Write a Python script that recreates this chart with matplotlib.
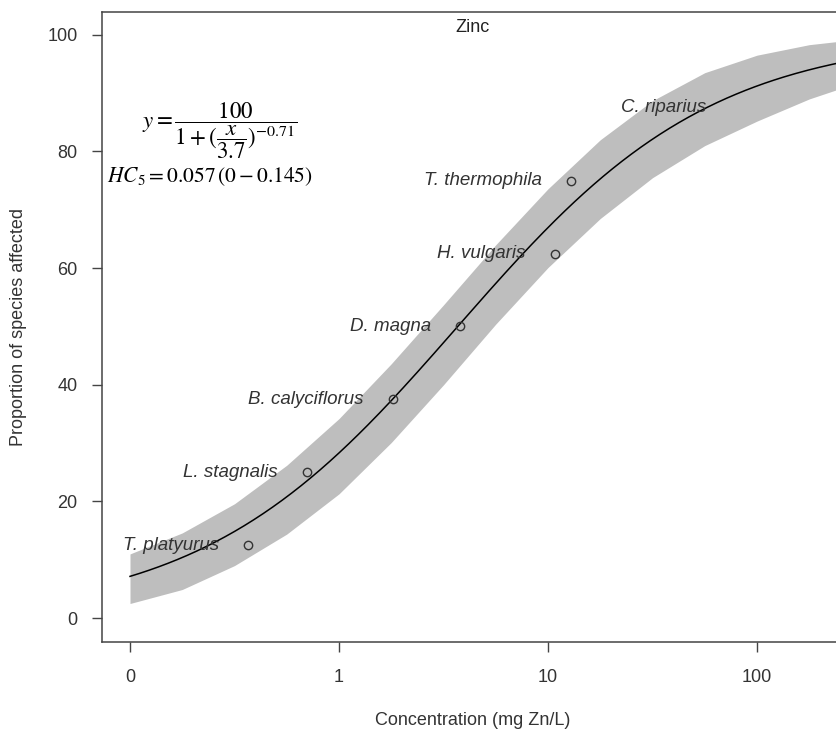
import numpy as np
import matplotlib
matplotlib.use("Agg")
import matplotlib.pyplot as plt
from matplotlib.ticker import FixedLocator, FixedFormatter, NullLocator

plt.rcParams['font.family'] = ['Liberation Sans', 'DejaVu Sans']
plt.rcParams['mathtext.fontset'] = 'stix'

# species sensitivity data (concentration in mg Zn/L, % of species affected)
species = ["T. platyurus", "L. stagnalis", "B. calyciflorus", "D. magna",
           "H. vulgaris", "T. thermophila", "C. riparius"]
conc = [0.367, 0.703, 1.81, 3.79, 10.8, 12.9, 78.5]
affected = [12.5, 25.0, 37.5, 50.0, 62.5, 75.0, 87.5]
point_shown = [True, True, True, True, True, True, False]

# fitted log-logistic model
hc50 = 3.7
slope = 0.71

# confidence band around the fit
band_logx = [-1.0, -0.75, -0.5, -0.25, 0.0, 0.25, 0.5, 0.75, 1.0, 1.25, 1.5, 1.75, 2.0, 2.25, 2.4]
band_lower = [2.5, 4.9, 9.0, 14.4, 21.3, 30.1, 40.0, 50.4, 60.1, 68.5, 75.5, 81.0, 85.2, 89.0, 90.8]
band_upper = [11.0, 14.6, 19.6, 26.2, 34.2, 43.6, 53.7, 64.0, 73.6, 82.0, 88.7, 93.5, 96.5, 98.3, 98.9]

xticks = [0.1, 1, 10, 100]
xtick_labels = ["0", "1", "10", "100"]
yticks = [0, 20, 40, 60, 80, 100]

W, H = 836, 740
fig = plt.figure(figsize=(W / 100, H / 100), dpi=100)
ax = fig.add_axes([102 / W, 1 - 642 / H, (844 - 102) / W, (642 - 12) / H])

ax.set_xscale('log')
ax.set_xlim(10 ** -1.134, 10 ** 2.416)
ax.set_ylim(-4.1, 103.9)

bx = 10 ** np.array(band_logx)
ax.fill_between(bx, band_lower, band_upper, color='#bebebe', lw=0, zorder=1)

xs = np.logspace(-1, 2.4, 300)
ys = 100 / (1 + (xs / hc50) ** (-slope))
ax.plot(xs, ys, color='black', lw=1.1, zorder=2)

for name, c, a, shown in zip(species, conc, affected, point_shown):
    if shown:
        ax.plot(c, a, 'o', mfc='none', mec='#333333', ms=6, mew=1.0, zorder=3)
    ax.annotate(name, (c, a), xytext=(-21, 0), textcoords='offset points',
                ha='right', va='center', style='italic', fontsize=13.5,
                color='#333333', zorder=4)

ax.text(0.5, 0.976, "Zinc", transform=ax.transAxes, ha='center', va='center',
        fontsize=13, color='#222222')

fig.text(142 / W, 1 - 131 / H, r'$y=\dfrac{100}{1+(\dfrac{x}{3.7})^{-0.71}}$',
         ha='left', va='center', fontsize=16.5)
fig.text(107 / W, 1 - 177 / H, r'$HC_5=0.057\,(0-0.145)$',
         ha='left', va='center', fontsize=15.5)

ax.xaxis.set_major_locator(FixedLocator(xticks))
ax.xaxis.set_major_formatter(FixedFormatter(xtick_labels))
ax.xaxis.set_minor_locator(NullLocator())
ax.set_yticks(yticks)

for s in ['left', 'bottom', 'top']:
    ax.spines[s].set_color('#444444')
    ax.spines[s].set_linewidth(1.1)
ax.spines['right'].set_visible(False)

ax.tick_params(axis='both', direction='out', length=7.5, width=1.0,
               color='#444444', labelcolor='#333333', labelsize=13)
ax.tick_params(axis='y', pad=10)
ax.tick_params(axis='x', pad=12)

ax.set_xlabel("Concentration (mg Zn/L)", fontsize=13, color='#333333')
ax.set_ylabel("Proportion of species affected", fontsize=13, color='#333333')
ax.xaxis.set_label_coords(0.5, -0.124)
ax.xaxis.label.set_va('center')
ax.yaxis.set_label_coords(-0.113, 0.5)
ax.yaxis.label.set_va('center')

fig.savefig("out.png", dpi=100)
